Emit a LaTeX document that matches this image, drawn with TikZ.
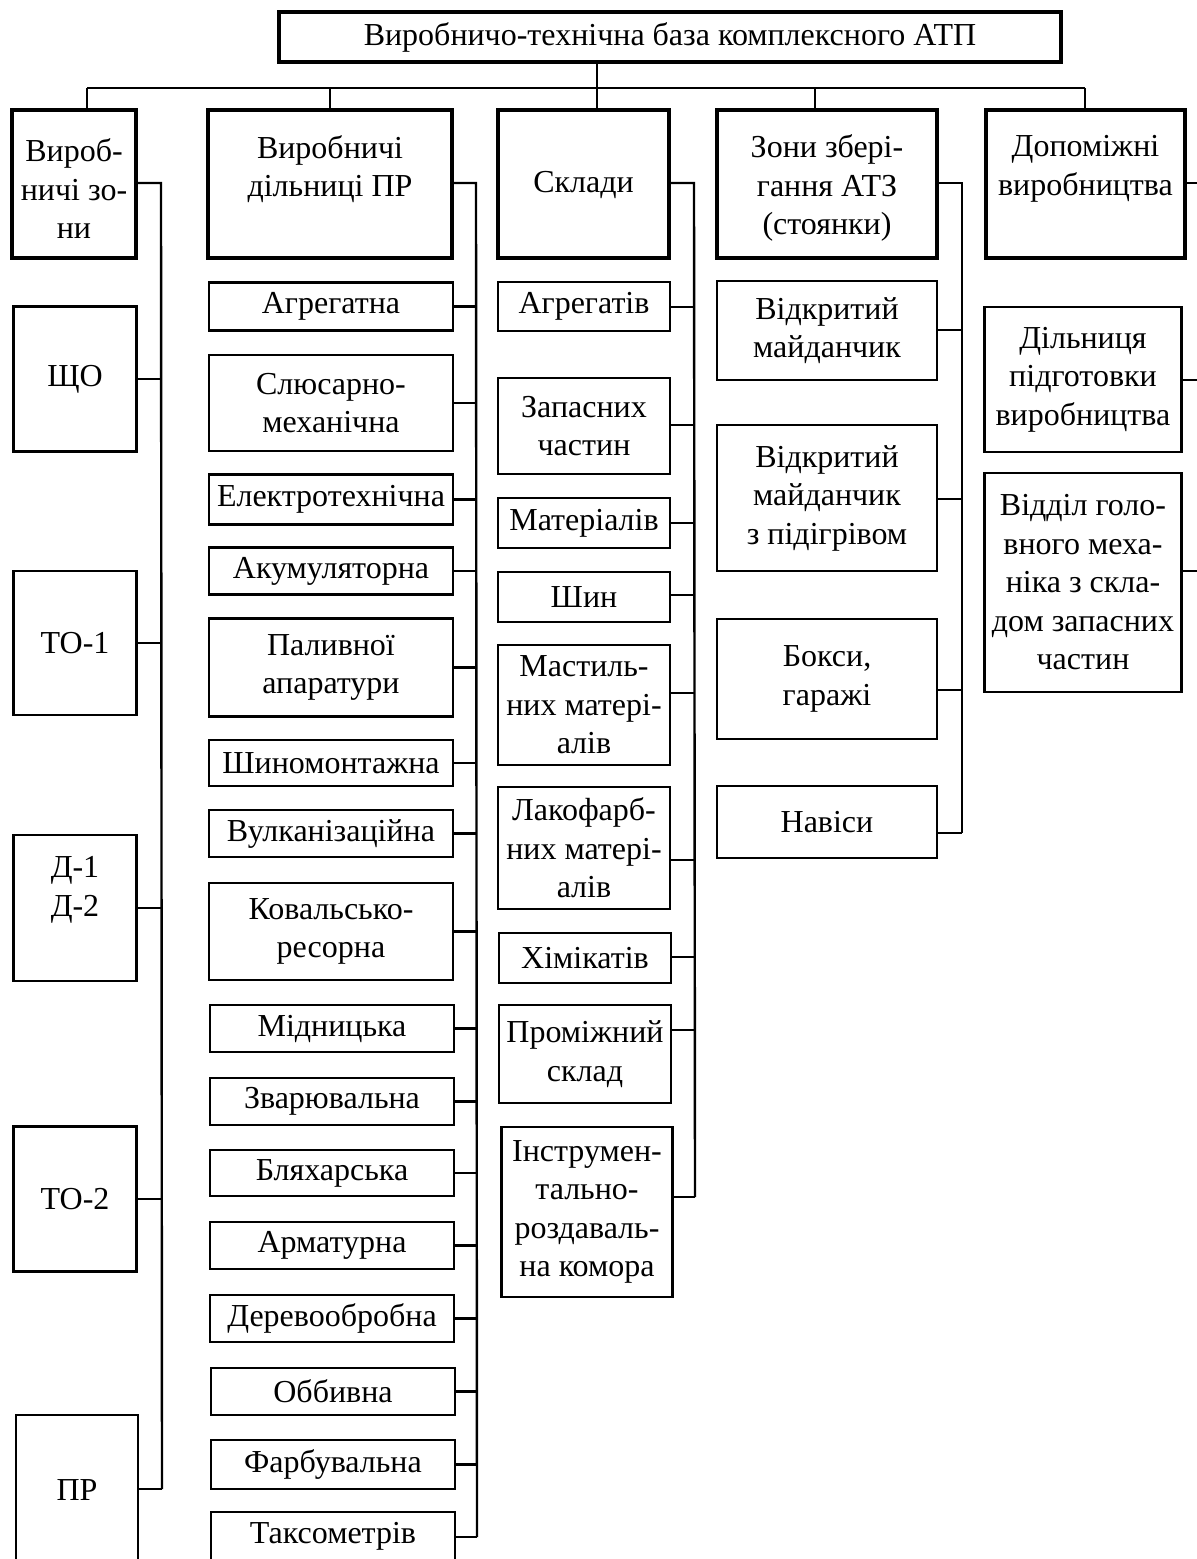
\documentclass[tikz,border=0pt]{standalone}
\usepackage{fontspec}
\setmainfont{Liberation Serif}
\newcommand\dfont{\fontsize{32}{38.5}\selectfont}
\tikzset{
  sbox/.style={draw, line width=2.8pt, inner sep=0pt, align=center, font=\dfont},
  lbox/.style={draw, line width=4.2pt, inner sep=0pt, align=center, font=\dfont},
  txt/.style={inner sep=0pt, align=center, font=\dfont},
  ln/.style={line width=2.4pt},
}
\begin{document}
\begin{tikzpicture}[x=1pt,y=-1pt]
\useasboundingbox (0,0) rectangle (1197,1559);

% top
\node[lbox, minimum width=782, minimum height=50] (top) at (670,37) {Виробничо-технічна база комплексного АТП};

% level 1
\node[lbox, minimum width=124, minimum height=148] (vz) at (74,184) {};
\node[txt] (vzt) at (74,189) {Вироб-\\ничі зо-\\ни};
\node[lbox, minimum width=244, minimum height=148] (vd) at (330,184) {};
\node[txt] (vdt) at (330,169) {Виробничі\\дільниці ПР};
\node[lbox, minimum width=171, minimum height=148] (sk) at (583.5,184) {};
\node[txt] (skt) at (583.5,185) {Склади};
\node[lbox, minimum width=220, minimum height=148] (zz) at (827,184) {};
\node[txt] (zzt) at (827,188) {Зони збері-\\гання АТЗ\\(стоянки)};
\node[lbox, minimum width=199, minimum height=148] (dv) at (1085.5,184) {};
\node[txt] (dvt) at (1085.5,169) {Допоміжні\\виробництва};

% top bus
\coordinate (tbL) at (87,88);
\coordinate (tbR) at (1085,88);
\coordinate (d3) at (597,88);
\coordinate (d4) at (815,88);
\draw[ln] (tbL) -- (tbR);
\draw[ln] (d3 |- top.south) -- (d3 |- sk.north);
\draw[ln] (tbL) -- (tbL |- vz.north);
\draw[ln] (vd.north |- tbL) -- (vd.north);
\draw[ln] (d4) -- (d4 |- zz.north);
\draw[ln] (tbR) -- (tbR |- dv.north);

% column 1
\node[sbox, minimum width=123, minimum height=145] (shcho) at (75,379) {ЩО};
\node[sbox, minimum width=123, minimum height=144] (to1) at (75,643) {ТО-1};
\node[sbox, minimum width=123, minimum height=146] (d12) at (75,908) {};
\node[txt] (d12t) at (75,890) {Д-1\\Д-2};
\node[sbox, minimum width=123, minimum height=145] (to2) at (75,1199) {ТО-2};
\node[sbox, minimum width=122, minimum height=190] (pr) at (77,1510) {};
\node[txt] (prt) at (77,1490) {ПР};
\coordinate (b1a) at (161,183);
\coordinate (b1b) at (162,1489);
\draw[ln] (vz.east |- b1a) -- (b1a) -- (b1b);
\draw[ln] (shcho.east) -- (shcho.east -| b1a);
\draw[ln] (to1.east) -- (to1.east -| b1a);
\draw[ln] (d12.east) -- (d12.east -| b1a);
\draw[ln] (to2.east) -- (to2.east -| b1a);
\draw[ln] (pr.east |- b1b) -- (b1b);

% column 2
\node[sbox, minimum width=244, minimum height=48] (agr) at (331,306.5) {Агрегатна};
\node[sbox, minimum width=244, minimum height=96] (slus) at (331,403) {Слюсарно-\\механічна};
\node[sbox, minimum width=244, minimum height=50] (elek) at (331,499.5) {Електротехнічна};
\node[sbox, minimum width=244, minimum height=47] (akum) at (331,571) {Акумуляторна};
\node[sbox, minimum width=244, minimum height=98] (paliv) at (331,667.5) {Паливної\\апаратури};
\node[sbox, minimum width=244, minimum height=46] (shyno) at (331,763) {Шиномонтажна};
\node[sbox, minimum width=244, minimum height=47] (vulk) at (331,833.5) {Вулканізаційна};
\node[sbox, minimum width=244, minimum height=97] (koval) at (331,931.5) {Ковальсько-\\ресорна};
\node[sbox, minimum width=244, minimum height=47] (midn) at (332,1028.5) {Мідницька};
\node[sbox, minimum width=244, minimum height=47] (zvar) at (332,1101.5) {Зварювальна};
\node[sbox, minimum width=244, minimum height=46] (blyakh) at (332,1173) {Бляхарська};
\node[sbox, minimum width=244, minimum height=47] (armat) at (332,1245.5) {Арматурна};
\node[sbox, minimum width=244, minimum height=47] (derev) at (332,1318.5) {Деревообробна};
\node[sbox, minimum width=244, minimum height=47] (obbyv) at (333,1391.5) {Оббивна};
\node[sbox, minimum width=244, minimum height=49] (farb) at (333,1464.5) {Фарбувальна};
\node[sbox, minimum width=244, minimum height=48] (taks) at (333,1536) {Таксометрів};
\coordinate (b2a) at (476,183);
\coordinate (b2b) at (477,1537);
\draw[ln] (vd.east |- b2a) -- (b2a) -- (b2b);
\foreach \n in {agr,slus,elek,akum,paliv,shyno,vulk,koval,midn,zvar,blyakh,armat,derev,obbyv,farb}
  \draw[ln] (\n.east) -- (\n.east -| b2a);
\draw[ln] (taks.east |- b2b) -- (b2b);

% column 3
\node[sbox, minimum width=172, minimum height=49] (agrt) at (584,306.5) {Агрегатів};
\node[sbox, minimum width=172, minimum height=96] (zap) at (584,426) {Запасних\\частин};
\node[sbox, minimum width=172, minimum height=50] (mat) at (584,523) {Матеріалів};
\node[sbox, minimum width=172, minimum height=50] (shyn) at (584,597) {Шин};
\node[sbox, minimum width=172, minimum height=120] (mast) at (584,705) {Мастиль-\\них матері-\\алів};
\node[sbox, minimum width=172, minimum height=122] (lako) at (584,848) {Лакофарб-\\них матері-\\алів};
\node[sbox, minimum width=172, minimum height=50] (khim) at (585,958) {Хімікатів};
\node[sbox, minimum width=172, minimum height=98] (prom) at (585,1054) {Проміжний\\склад};
\node[sbox, minimum width=171, minimum height=170] (instr) at (587,1212) {Інструмен-\\тально-\\роздаваль-\\на комора};
\coordinate (b3a) at (694,183);
\coordinate (b3b) at (695,1197);
\draw[ln] (sk.east |- b3a) -- (b3a) -- (b3b);
\draw[ln] (agrt.east |- 0,307) -- (b3a |- 0,307);
\draw[ln] (zap.east |- 0,425) -- (b3a |- 0,425);
\draw[ln] (mat.east |- 0,523) -- (b3a |- 0,523);
\draw[ln] (shyn.east |- 0,595) -- (b3a |- 0,595);
\draw[ln] (mast.east |- 0,693) -- (b3a |- 0,693);
\draw[ln] (lako.east |- 0,860) -- (b3a |- 0,860);
\draw[ln] (khim.east |- 0,957) -- (b3a |- 0,957);
\draw[ln] (prom.east |- 0,1030) -- (b3a |- 0,1030);
\draw[ln] (instr.east |- b3b) -- (b3b);

% column 4
\node[sbox, minimum width=220, minimum height=99] (vid1) at (827,330.5) {Відкритий\\майданчик};
\node[sbox, minimum width=220, minimum height=146] (vid2) at (827,498) {Відкритий\\майданчик\\з підігрівом};
\node[sbox, minimum width=220, minimum height=120] (boks) at (827,679) {Бокси,\\гаражі};
\node[sbox, minimum width=220, minimum height=72] (nav) at (827,822) {Навіси};
\coordinate (b4a) at (962,183);
\coordinate (b4b) at (962,833);
\draw[ln] (zz.east |- b4a) -- (b4a) -- (b4b);
\draw[ln] (vid1.east |- 0,330) -- (b4a |- 0,330);
\draw[ln] (vid2.east |- 0,499) -- (b4a |- 0,499);
\draw[ln] (boks.east |- 0,690) -- (b4a |- 0,690);
\draw[ln] (nav.east |- b4b) -- (b4b);

% column 5
\node[sbox, minimum width=197, minimum height=145] (dil) at (1083,379.5) {Дільниця\\підготовки\\виробництва};
\node[sbox, minimum width=197, minimum height=219] (vidd) at (1083,582.5) {Відділ голо-\\вного меха-\\ніка з скла-\\дом запасних\\частин};
\coordinate (b5a) at (1200,183);
\draw[ln] (dv.east |- b5a) -- (b5a);
\draw[ln] (dil.east |- 0,380) -- (b5a |- 0,380);
\draw[ln] (vidd.east |- 0,571) -- (b5a |- 0,571);
\end{tikzpicture}
\end{document}
